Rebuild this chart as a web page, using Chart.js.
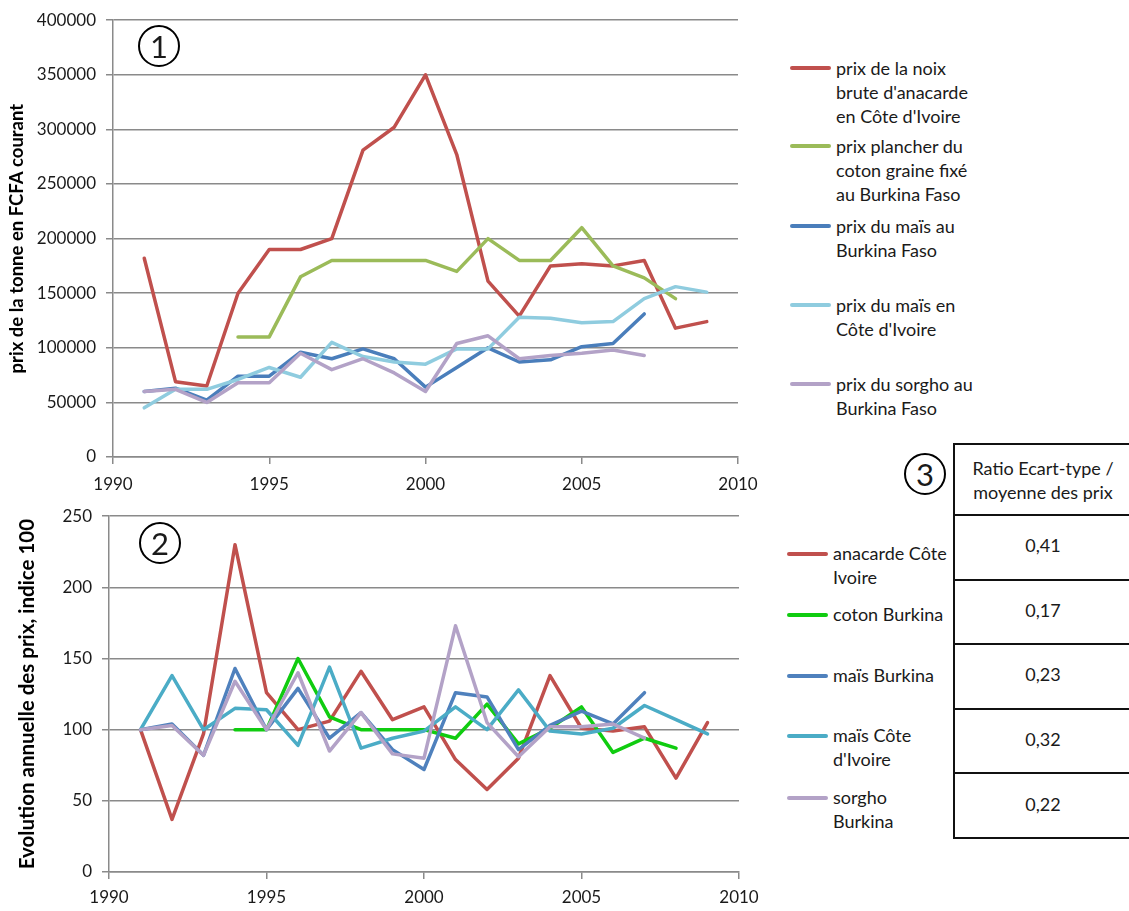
<!DOCTYPE html>
<html>
<head>
<meta charset="utf-8">
<script src="https://cdn.jsdelivr.net/npm/chart.js@4"></script>
<style>
  body { margin: 0; width: 1129px; height: 911px; overflow: hidden; background: #fff; font-family: Lato, sans-serif; color: #1a1a1a; position: relative; }
  canvas { position: absolute; left: 0; }
  .leg { position: absolute; font-size: 18px; line-height: 24px; white-space: nowrap; }
  .leg .sw { position: absolute; height: 4px; border-radius: 2px; }
  .circ { position: absolute; width: 38px; height: 38px; border: 2px solid #000; border-radius: 50%; font-size: 31px; line-height: 38px; text-align: center; }
  table { position: absolute; left: 953px; top: 443px; width: 180px; border-collapse: collapse; font-size: 18px; }
  td { border: 2px solid #111; text-align: center; padding: 0; }
</style>
</head>
<body>
<canvas id="prix" width="760" height="496" style="top:0"></canvas>
<canvas id="indice" width="760" height="415" style="top:496px"></canvas>
<div class="circ" style="left:138px;top:25px">1</div>
<div class="circ" style="left:139px;top:522px">2</div>
<div class="circ" style="left:904px;top:453px">3</div>
<div id="legend1"></div>
<div id="legend2"></div>
<table id="ratios"></table>
<script>
const years = [1991, 1992, 1993, 1994, 1995, 1996, 1997, 1998, 1999, 2000,
  2001, 2002, 2003, 2004, 2005, 2006, 2007, 2008, 2009];

// chart 1 : prix de la tonne en FCFA courant
const anacardeCI = [182000, 69000, 65000, 150000, 190000, 190000, 200000, 281000, 302000, 350000,
  277000, 161000, 129000, 175000, 177000, 175000, 180000, 118000, 124000];
const cotonBF = [null, null, null, 110000, 110000, 165000, 180000, 180000, 180000, 180000,
  170000, 200000, 180000, 180000, 210000, 175000, 164000, 145000, null];
const maisBF = [60000, 63000, 52000, 74000, 74000, 96000, 90000, 99000, 90000, 64000,
  82000, 100000, 87000, 89000, 101000, 104000, 131000, null, null];
const maisCI = [45000, 62000, 62000, 71000, 82000, 73000, 105000, 92000, 87000, 85000,
  99000, 99000, 128000, 127000, 123000, 124000, 145000, 156000, 151000];
const sorghoBF = [60000, 62000, 50000, 68000, 68000, 95000, 80000, 90000, 77000, 60000,
  104000, 111000, 90000, 93000, 95000, 98000, 93000, null, null];

// chart 2 : evolution annuelle, indice 100
const idxAnacarde = [100, 37, 97, 230, 126, 100, 106, 141, 107, 116, 79, 58, 80, 138, 101, 99, 102, 66, 105];
const idxCoton = [null, null, null, 100, 100, 150, 109, 100, 100, 100, 94, 118, 90, 101, 116, 84, 94, 87, null];
const idxMaisBF = [100, 104, 82, 143, 100, 129, 94, 112, 86, 72, 126, 123, 86, 103, 113, 104, 126, null, null];
const idxMaisCI = [100, 138, 100, 115, 114, 89, 144, 87, 94, 99, 116, 100, 128, 99, 97, 101, 117, 107, 97];
const idxSorgho = [100, 103, 82, 134, 100, 140, 85, 112, 83, 80, 173, 105, 81, 102, 102, 104, 94, null, null];

const legend1 = [
  ["prix de la noix", "brute d'anacarde", "en Côte d'Ivoire"],
  ["prix plancher du", "coton graine fixé", "au Burkina Faso"],
  ["prix du maïs au", "Burkina Faso"],
  ["prix du maïs en", "Côte d'Ivoire"],
  ["prix du sorgho au", "Burkina Faso"],
];
const legend2 = [
  ["anacarde Côte", "Ivoire"],
  ["coton Burkina"],
  ["maïs Burkina"],
  ["maïs Côte", "d'Ivoire"],
  ["sorgho", "Burkina"],
];
const ratioHeader = ["Ratio Ecart-type /", "moyenne des prix"];
const ratioValues = ["0,41", "0,17", "0,23", "0,32", "0,22"];

const colors1 = ["#C0504D", "#9BBB59", "#4A7EBB", "#8FCCDF", "#B3A2C7"];
const colors2 = ["#C0504D", "#10CC10", "#4F81BD", "#4BACC6", "#B3A2C7"];

const FONT = "Lato, 'Open Sans', sans-serif";
const GRID = "#8a8a8a";

function toPoints(values) {
  return years.map((y, i) => ({ x: y, y: values[i] }));
}

function makeDatasets(series, colors, labels) {
  return series.map((s, i) => ({
    label: labels[i].join(" "),
    data: toPoints(s),
    borderColor: colors[i],
    backgroundColor: colors[i],
    borderWidth: 3.5,
    pointRadius: 0,
    tension: 0,
    borderJoinStyle: "round",
    borderCapStyle: "round",
    spanGaps: false,
    order: series.length - i,
  }));
}

function makeChart(id, datasets, opts) {
  return new Chart(document.getElementById(id), {
    type: "line",
    data: { datasets },
    options: {
      responsive: false,
      animation: false,
      layout: { padding: opts.padding, autoPadding: false },
      plugins: { legend: { display: false }, tooltip: { enabled: false } },
      scales: {
        x: {
          type: "linear",
          min: 1990,
          max: 2010,
          afterFit: (s) => { s.height = opts.xHeight; s.paddingLeft = 0; s.paddingRight = 0; },
          afterBuildTicks: (s) => { s.ticks = [1990, 1995, 2000, 2005, 2010].map((v) => ({ value: v })); },
          border: { color: GRID, width: 1.5 },
          grid: { drawOnChartArea: false, drawTicks: true, tickLength: 7, color: GRID, lineWidth: 1.5 },
          ticks: { color: "#1a1a1a", font: { family: FONT, size: 17 }, padding: opts.xPad, maxRotation: 0, callback: (v) => String(v) },
        },
        y: {
          min: 0,
          max: opts.yMax,
          afterFit: (s) => { s.width = opts.yWidth; },
          border: { color: GRID, width: 1.5 },
          grid: { color: GRID, lineWidth: 1.5, tickLength: 7 },
          ticks: { stepSize: opts.yStep, color: "#1a1a1a", font: { family: FONT, size: 17 }, padding: opts.tickPad, callback: (v) => String(v) },
          title: {
            display: true,
            text: opts.title,
            color: "#000",
            font: { family: FONT, size: opts.titleSize, weight: "bold" },
            padding: { top: opts.titlePad, bottom: 0 },
          },
        },
      },
    },
  });
}

const chart1 = makeChart("prix",
  makeDatasets([anacardeCI, cotonBF, maisBF, maisCI, sorghoBF], colors1, legend1),
  { padding: { top: 18, right: 22, left: 0, bottom: 0 }, xHeight: 39, yWidth: 113, yMax: 400000, yStep: 50000,
    tickPad: 10, xPad: 10, title: "prix de la tonne en FCFA courant", titleSize: 18.5, titlePad: 6 });

const chart2 = makeChart("indice",
  makeDatasets([idxAnacarde, idxCoton, idxMaisBF, idxMaisCI, idxSorgho], colors2, legend2),
  { padding: { top: 17, right: 21, left: 0, bottom: 0 }, xHeight: 39, yWidth: 109, yMax: 250, yStep: 50,
    tickPad: 10, xPad: 8, title: "Evolution annuelle des prix, indice 100", titleSize: 20.5, titlePad: 15 });

// legends, built from the chart datasets
function buildLegend(el, chart, labels, tops, swX, swW, textX, lineH) {
  chart.data.datasets.forEach((ds, i) => {
    const d = document.createElement("div");
    d.className = "leg";
    d.style.left = textX + "px";
    d.style.top = (tops[i] - lineH / 2) + "px";
    d.style.lineHeight = lineH + "px";
    d.innerHTML = labels[i].join("<br>");
    const sw = document.createElement("div");
    sw.className = "sw";
    sw.style.background = ds.borderColor;
    sw.style.left = (swX - textX) + "px";
    sw.style.width = swW + "px";
    sw.style.top = (lineH / 2 - 2) + "px";
    d.appendChild(sw);
    el.appendChild(d);
  });
}
buildLegend(document.getElementById("legend1"), chart1, legend1, [68, 146, 226, 305, 384], 790, 41, 836, 24);
buildLegend(document.getElementById("legend2"), chart2, legend2, [554, 615, 676, 736, 798], 787, 41, 833, 23.5);

// ratio table
const table = document.getElementById("ratios");
const head = table.insertRow();
head.style.height = "71px";
head.insertCell().innerHTML = ratioHeader.join("<br>");
head.cells[0].style.fontSize = "18px";
head.cells[0].style.lineHeight = "24px";
ratioValues.forEach((v) => {
  const r = table.insertRow();
  r.style.height = "64.6px";
  const c = r.insertCell();
  c.textContent = v;
  c.style.paddingBottom = "4px";
});
</script>
</body>
</html>
